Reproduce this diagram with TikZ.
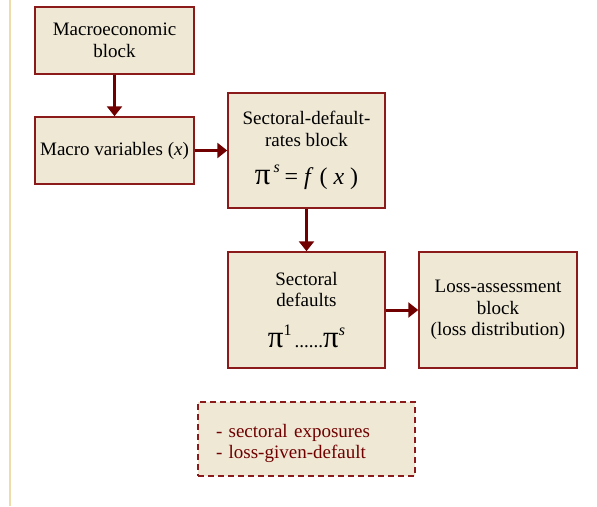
\documentclass[tikz,border=0pt]{standalone}
\usepackage{fontspec}
\setmainfont{Liberation Serif}
\usetikzlibrary{shapes,arrows.meta}
\usepackage{xcolor}
\definecolor{boxfill}{HTML}{EEE8D5}
\definecolor{boxline}{HTML}{8B1A1A}
\definecolor{flow}{HTML}{700000}
\definecolor{rule}{HTML}{EEDDA8}
\newcommand{\bigpi}{{\fontsize{31}{31}\selectfont π}}
\newcommand{\upper}[1]{\raisebox{12pt}{\fontsize{16}{16}\selectfont #1}}
\tikzset{
  block/.style={draw=boxline,fill=boxfill,line width=1.5pt,align=center,
    font=\fontsize{19}{21.5}\selectfont,inner sep=2pt},
  flowarrow/.style={draw=flow,line width=3pt,-{Triangle[length=10pt,width=15pt]}},
}
\begin{document}
\begin{tikzpicture}[x=1pt,y=-1pt]
        \def\wa{159}
        \def\ha{67}
        \def\hb{116}
        \useasboundingbox (0,0) rectangle (597,506);
        \draw[rule,line width=2pt] (10,0) -- (10,506);
        \node[block,minimum width=\wa pt,minimum height=\ha pt] (macro) at (114.5,40.5) {Macroeconomic\\block};
        \node[block,minimum width=\wa pt,minimum height=\ha pt] (vars) at (114.5,150.5) {Macro variables (\textit{x})};
        \node[block,minimum width=157pt,minimum height=115pt] (rates) at (306.5,150.5)
          {Sectoral-default-\\rates block\\[17pt]\bigpi\,\upper{\textit{s}} {\fontsize{24}{24}\selectfont = \textit{f} ( \textit{x} )}};
        \node[block,minimum width=157pt,minimum height=\hb pt] (defaults) at (306.5,310)
          {Sectoral\\defaults\\[17pt]\bigpi\upper{1}\,......\bigpi\upper{\textit{s}}};
        \node[block,minimum width=158pt,minimum height=\hb pt] (loss) at (498,310) {Loss-assessment\\block\\(loss distribution)};
        \node[block,dashed,dash pattern=on 6pt off 4pt,align=left,text=flow,minimum width=217pt,minimum height=74pt,
          text width=181pt] (expo) at (306.5,439) {\rule{0pt}{22pt}- sectoral exposures\\- loss-given-default};
        %\node at (306.5,480) {};
        \draw[flowarrow] (macro) -- (vars);
        \draw[flowarrow] (vars) -- (rates);
        \draw[flowarrow] (rates) -- (defaults);
        \draw[flowarrow] (defaults) -- (loss);
\end{tikzpicture}
\end{document}
